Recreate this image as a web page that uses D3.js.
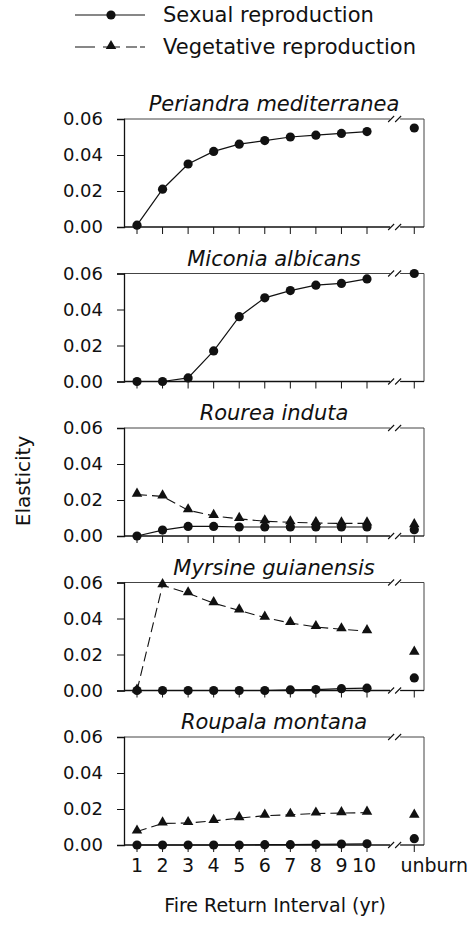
<!DOCTYPE html>
<html>
<head>
<meta charset="utf-8">
<script src="https://cdn.jsdelivr.net/npm/d3@7"></script>
<style>
  body { margin: 0; background: #fff; }
  text { font-family: "DejaVu Sans", sans-serif; fill: #111; }
</style>
</head>
<body>
<svg width="472" height="926"></svg>
<script>
// x categories: fire return interval, plus the unburned case
const xLabels = ["1", "2", "3", "4", "5", "6", "7", "8", "9", "10", "unburn"];
const yTicks = [0, 0.02, 0.04, 0.06];

const species = [
    "Periandra mediterranea",
    "Miconia albicans",
    "Rourea induta",
    "Myrsine guianensis",
    "Roupala montana"
];

// sexual reproduction elasticity (last value = unburn)
const sexual = [
    [0.001, 0.021, 0.035, 0.042, 0.046, 0.048, 0.050, 0.051, 0.052, 0.053, 0.055],
    [0.000, 0.000, 0.002, 0.017, 0.036, 0.0465, 0.0505, 0.0535, 0.0545, 0.057, 0.060],
    [0.000, 0.0033, 0.0053, 0.0053, 0.005, 0.005, 0.005, 0.005, 0.005, 0.005, 0.0035],
    [0.000, 0.000, 0.000, 0.000, 0.000, 0.000, 0.0003, 0.0005, 0.001, 0.0013, 0.007],
    [0.000, 0.000, 0.000, 0.000, 0.000, 0.0002, 0.0002, 0.0003, 0.0005, 0.0007, 0.0035]
];

// vegetative reproduction elasticity (null = no vegetative data)
const vegetative = [
    null,
    null,
    [0.023, 0.022, 0.0143, 0.0112, 0.0095, 0.0082, 0.0076, 0.0072, 0.007, 0.007, 0.006],
    [0.000, 0.0585, 0.054, 0.0485, 0.0445, 0.0405, 0.0375, 0.0353, 0.034, 0.033, 0.021],
    [0.0075, 0.012, 0.0122, 0.0134, 0.0149, 0.0163, 0.0168, 0.0175, 0.0177, 0.018, 0.0163]
];

const svg = d3.select("svg");

const left = 124, right = 424;
const panelTop0 = 119, panelStep = 154.5, panelH = 108;

// position index: 1..10, then unburn after the axis break
const xIndex = i => i < 10 ? i + 1 : 11.85;
const x = d3.scaleLinear().domain([1, 10]).range([137, 367]);
const breakX = x(11.1);

species.forEach((name, p) => {
    const top = panelTop0 + p * panelStep;
    const y = d3.scaleLinear().domain([0, 0.06]).range([top + panelH, top]);
    const g = svg.append("g");

    // frame: top and right lines (lighter), with break marks
    const frame = [
        [[left, top], [breakX - 5, top]],
        [[breakX + 5, top], [right, top]],
        [[right, top], [right, top + panelH]],
        [[left, top + panelH], [breakX - 5, top + panelH]],
        [[breakX + 5, top + panelH], [right, top + panelH]]
    ];
    frame.forEach((s, k) => {
        g.append("line")
            .attr("x1", s[0][0]).attr("y1", s[0][1])
            .attr("x2", s[1][0]).attr("y2", s[1][1])
            .attr("stroke", k < 3 ? "#444" : "#111")
            .attr("stroke-width", k < 3 ? 1 : 1.3);
    });
    [top, top + panelH].forEach(yy => {
        [-4, 3].forEach(dx => {
            g.append("line")
                .attr("x1", breakX + dx - 3).attr("y1", yy + 3)
                .attr("x2", breakX + dx + 3).attr("y2", yy - 3)
                .attr("stroke", "#111").attr("stroke-width", 1.1);
        });
    });

    // y axis
    const yAxis = d3.axisLeft(y).tickValues(yTicks).tickFormat(d3.format(".2f"))
        .tickSize(7).tickPadding(14);
    const ya = g.append("g").attr("transform", `translate(${left},0)`).call(yAxis);
    ya.select(".domain").attr("stroke", "#111").attr("stroke-width", 1.3);
    ya.selectAll(".tick line").attr("stroke", "#111");
    ya.selectAll("text").style("font-size", "18px").attr("fill", "#111");

    // x ticks (labels only on the last panel)
    const xt = g.append("g");
    xLabels.forEach((lab, i) => {
        xt.append("line")
            .attr("x1", x(xIndex(i))).attr("x2", x(xIndex(i)))
            .attr("y1", top + panelH).attr("y2", top + panelH + 7)
            .attr("stroke", "#111");
        if (p === species.length - 1) {
            xt.append("text")
                .attr("x", x(xIndex(i)) + (i === 10 ? 20 : i === 9 ? -3 : 0))
                .attr("y", top + panelH + 27)
                .attr("text-anchor", "middle")
                .style("font-size", "19px")
                .text(lab);
        }
    });

    // title
    g.append("text")
        .attr("x", (left + right) / 2).attr("y", top - 8)
        .attr("text-anchor", "middle")
        .style("font-size", "21px").style("font-style", "italic")
        .text(name);

    const line = d3.line().x((d, i) => x(xIndex(i))).y(d => y(d));

    // vegetative series
    const veg = vegetative[p];
    if (veg) {
        g.append("path")
            .datum(veg.slice(0, 10))
            .attr("d", line)
            .attr("fill", "none").attr("stroke", "#111")
            .attr("stroke-width", 1.1).attr("stroke-dasharray", "10,5");
        g.selectAll(".tri").data(veg).enter().append("path")
            .attr("d", d3.symbol().type(d3.symbolTriangle).size(48))
            .attr("transform", (d, i) => `translate(${x(xIndex(i))},${y(d) - 1})`)
            .attr("fill", "#111");
    }

    // sexual series
    const sex = sexual[p];
    g.append("path")
        .datum(sex.slice(0, 10))
        .attr("d", line)
        .attr("fill", "none").attr("stroke", "#111").attr("stroke-width", 1.2);
    g.selectAll(".dot").data(sex).enter().append("circle")
        .attr("cx", (d, i) => x(xIndex(i)))
        .attr("cy", d => y(d))
        .attr("r", 4.6)
        .attr("fill", "#111");
});

// axis titles
svg.append("text")
    .attr("x", (left + right) / 2 + 1).attr("y", 912)
    .attr("text-anchor", "middle")
    .style("font-size", "19px")
    .text("Fire Return Interval (yr)");

svg.append("text")
    .attr("transform", "translate(30,481) rotate(-90)")
    .attr("text-anchor", "middle")
    .style("font-size", "20px")
    .text("Elasticity");

// legend
const legend = svg.append("g");
legend.append("line").attr("x1", 75).attr("x2", 145).attr("y1", 15).attr("y2", 15)
    .attr("stroke", "#111").attr("stroke-width", 1.2);
legend.append("circle").attr("cx", 111).attr("cy", 15).attr("r", 4.6).attr("fill", "#111");
legend.append("text").attr("x", 163).attr("y", 22).style("font-size", "21px")
    .text("Sexual reproduction");

legend.append("line").attr("x1", 75).attr("x2", 145).attr("y1", 47).attr("y2", 47)
    .attr("stroke", "#111").attr("stroke-width", 1.1).attr("stroke-dasharray", "20,8,17,6,11,3");
legend.append("path")
    .attr("d", d3.symbol().type(d3.symbolTriangle).size(48))
    .attr("transform", "translate(111,46)").attr("fill", "#111");
legend.append("text").attr("x", 163).attr("y", 54).style("font-size", "21px")
    .text("Vegetative reproduction");
</script>
</body>
</html>
